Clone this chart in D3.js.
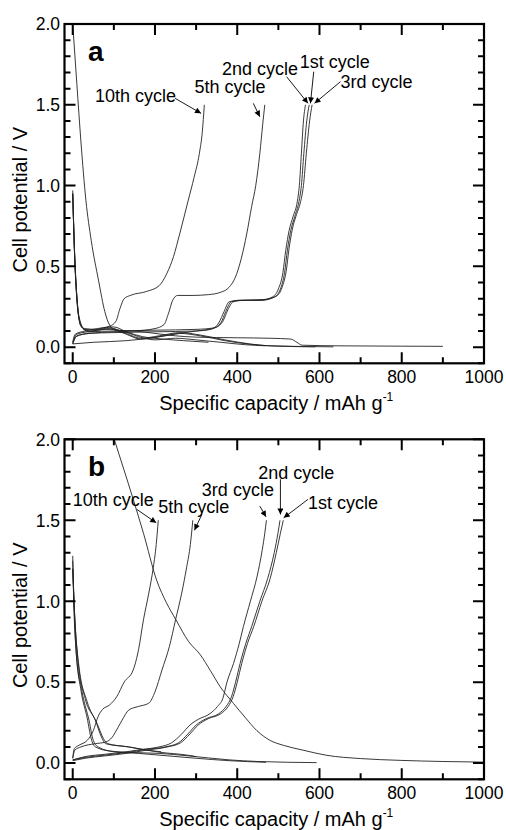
<!DOCTYPE html>
<html>
<head>
<meta charset="utf-8">
<script src="https://cdn.jsdelivr.net/npm/d3@7"></script>
<style>
body { margin: 0; background: #fff; }
text { font-family: "Liberation Sans", Arial, Helvetica, sans-serif; fill: #000; }
</style>
</head>
<body>
<div id="chart"></div>
<script>
var width = 506;
var height = 830;

// axis ticks
var capacityTicks = [0, 200, 400, 600, 800, 1000];
var capacityMinor = [100, 300, 500, 700, 900];
var potentialTicks = [0, 0.5, 1.0, 1.5, 2.0];
var potentialMinor = [-0.1, 0.1, 0.2, 0.3, 0.4, 0.6, 0.7, 0.8, 0.9, 1.1, 1.2, 1.3, 1.4, 1.6, 1.7, 1.8, 1.9];

// ---- panel a : [capacity mAh/g, potential V]
var aDis1 = [[0,2.0],[10,1.63],[20,1.27],[32,0.91],[45,0.66],[63,0.41],[78,0.22],[90,0.135],[105,0.105],[150,0.1],[200,0.085],[250,0.07],[300,0.062],[400,0.058],[480,0.055],[530,0.05],[545,0.03],[558,0.012],[650,0.008],[800,0.006],[900,0.005]];
var aDis2 = [[0,0.97],[4,0.62],[9,0.35],[16,0.18],[28,0.115],[60,0.11],[90,0.12],[130,0.085],[165,0.055],[210,0.07],[260,0.09],[310,0.075],[370,0.045],[430,0.02],[480,0.008],[634,0.002]];
var aDis3 = [[0,0.95],[4,0.6],[9,0.33],[16,0.17],[28,0.11],[60,0.105],[90,0.115],[130,0.08],[165,0.05],[210,0.065],[260,0.085],[310,0.07],[370,0.04],[430,0.018],[500,0.006],[590,0.002]];
var aDis5 = [[0,0.95],[5,0.55],[11,0.28],[20,0.13],[40,0.1],[80,0.11],[120,0.1],[160,0.065],[200,0.045],[250,0.055],[300,0.045],[360,0.03],[420,0.015],[470,0.008]];
var aDis10 = [[0,0.95],[5,0.55],[11,0.28],[20,0.13],[40,0.095],[75,0.12],[100,0.125],[130,0.095],[170,0.065],[220,0.05],[270,0.04],[330,0.03]];
var aChg1 = [[0,0.02],[50,0.03],[130,0.04],[200,0.06],[260,0.085],[300,0.1],[340,0.115],[360,0.15],[372,0.22],[385,0.28],[410,0.29],[460,0.29],[490,0.31],[505,0.36],[515,0.46],[522,0.6],[530,0.72],[540,0.81],[550,0.9],[556,1.0],[562,1.2],[569,1.4],[575,1.5]];
var aChg2 = [[0,0.02],[10,0.07],[40,0.085],[100,0.09],[200,0.095],[300,0.1],[335,0.11],[355,0.15],[368,0.22],[380,0.28],[405,0.29],[455,0.29],[485,0.31],[500,0.36],[511,0.46],[518,0.6],[526,0.72],[536,0.81],[546,0.9],[551,1.0],[556,1.2],[561,1.4],[566,1.5]];
var aChg3 = [[0,0.03],[10,0.08],[40,0.095],[100,0.1],[200,0.105],[300,0.11],[345,0.12],[365,0.16],[377,0.23],[390,0.28],[415,0.29],[465,0.295],[495,0.315],[509,0.37],[519,0.47],[526,0.61],[534,0.73],[544,0.82],[554,0.9],[561,1.0],[568,1.2],[576,1.4],[582,1.5]];
var aChg5 = [[0,0.02],[8,0.065],[40,0.085],[100,0.095],[150,0.1],[200,0.115],[222,0.14],[233,0.21],[243,0.29],[255,0.32],[290,0.32],[330,0.325],[360,0.34],[380,0.37],[395,0.43],[410,0.55],[423,0.7],[435,0.87],[445,1.0],[455,1.2],[462,1.38],[467,1.5]];
var aChg10 = [[0,0.03],[6,0.08],[30,0.1],[60,0.115],[90,0.13],[105,0.16],[115,0.24],[125,0.3],[140,0.32],[180,0.345],[210,0.38],[229,0.457],[245,0.56],[260,0.7],[281,0.91],[295,1.05],[308,1.2],[315,1.33],[320,1.5]];

// ---- panel b
var bDis1 = [[70,2.25],[101,2.0],[147,1.63],[172,1.42],[204,1.13],[228,0.99],[251,0.885],[282,0.75],[310,0.67],[335,0.57],[359,0.47],[391,0.368],[420,0.28],[448,0.2],[480,0.14],[512,0.11],[560,0.08],[618,0.048],[700,0.028],[796,0.017],[900,0.01],[1000,0.006]];
var bDis2 = [[0,1.28],[3,1.0],[8,0.7],[20,0.45],[35,0.28],[45,0.15],[55,0.1],[90,0.075],[150,0.065],[210,0.06],[280,0.045],[380,0.02],[450,0.01],[593,0.003]];
var bDis3 = [[0,1.25],[3,0.95],[8,0.7],[22,0.45],[40,0.26],[50,0.14],[62,0.1],[100,0.07],[160,0.06],[230,0.045],[300,0.03],[380,0.015],[470,0.005]];
var bDis5 = [[0,1.2],[4,0.95],[12,0.65],[30,0.4],[55,0.265],[70,0.16],[80,0.12],[136,0.1],[209,0.068],[282,0.048],[300,0.04]];
var bDis10 = [[0,1.2],[5,0.9],[15,0.6],[35,0.38],[60,0.24],[75,0.15],[85,0.12],[136,0.1],[180,0.08],[215,0.07]];
var bChg1 = [[0,0.015],[30,0.03],[80,0.045],[130,0.06],[180,0.08],[230,0.1],[262,0.125],[285,0.18],[305,0.235],[330,0.275],[360,0.305],[378,0.35],[390,0.41],[400,0.5],[411,0.616],[425,0.74],[440,0.843],[460,1.0],[480,1.14],[495,1.3],[505,1.42],[512,1.5]];
var bChg2 = [[0,0.02],[30,0.035],[80,0.05],[130,0.065],[180,0.085],[225,0.1],[257,0.125],[280,0.18],[300,0.235],[325,0.275],[355,0.305],[373,0.35],[386,0.41],[396,0.5],[407,0.616],[421,0.74],[435,0.843],[455,1.0],[474,1.14],[490,1.3],[499,1.42],[504,1.5]];
var bChg3 = [[0,0.02],[30,0.04],[80,0.055],[130,0.07],[170,0.085],[210,0.1],[240,0.125],[265,0.18],[285,0.235],[305,0.27],[334,0.306],[352,0.35],[365,0.4],[375,0.5],[391,0.616],[405,0.74],[415,0.843],[432,1.0],[448,1.15],[461,1.32],[467,1.42],[471,1.5]];
var bChg5 = [[0,0.03],[5,0.08],[20,0.1],[55,0.12],[80,0.13],[96,0.16],[110,0.22],[120,0.265],[136,0.327],[160,0.35],[185,0.37],[200,0.44],[217,0.575],[235,0.72],[250,0.885],[265,1.05],[277,1.21],[286,1.35],[292,1.5]];
var bChg10 = [[0,0.03],[4,0.09],[15,0.11],[35,0.14],[50,0.2],[62,0.29],[72,0.33],[90,0.36],[107,0.41],[125,0.5],[147,0.575],[160,0.7],[172,0.885],[185,1.05],[196,1.21],[203,1.35],[208,1.5]];

// labels: text start / baseline, arrow tail -> head (data units)
var notesA = [
	{ text: "10th cycle", x: 54, y: 1.52, x1: 249, y1: 1.54, x2: 312, y2: 1.447 },
	{ text: "5th cycle", x: 296, y: 1.571, x1: 439, y1: 1.509, x2: 455, y2: 1.426 },
	{ text: "2nd cycle", x: 363, y: 1.684, x1: 520, y1: 1.674, x2: 572, y2: 1.509 },
	{ text: "1st cycle", x: 552, y: 1.726, x1: 586, y1: 1.705, x2: 578, y2: 1.509 },
	{ text: "3rd cycle", x: 651, y: 1.602, x1: 651, y1: 1.643, x2: 588, y2: 1.509 }
	];
var notesB = [
	{ text: "10th cycle", x: 0, y: 1.587, x1: 156, y1: 1.567, x2: 203, y2: 1.484 },
	{ text: "5th cycle", x: 208, y: 1.546, x1: 314, y1: 1.536, x2: 296, y2: 1.438 },
	{ text: "3rd cycle", x: 314, y: 1.649, x1: 455, y1: 1.587, x2: 470, y2: 1.521 },
	{ text: "2nd cycle", x: 451, y: 1.757, x1: 505, y1: 1.753, x2: 505, y2: 1.536 },
	{ text: "1st cycle", x: 572, y: 1.571, x1: 572, y1: 1.629, x2: 513, y2: 1.515 }
	];

var panels = [
	{ id: "a", top: 24, bottom: 363.3, curves: [aDis1, aDis2, aDis3, aDis5, aDis10, aChg1, aChg2, aChg3, aChg5, aChg10], notes: notesA },
	{ id: "b", top: 439.3, bottom: 779.3, curves: [bDis1, bDis2, bDis3, bDis5, bDis10, bChg1, bChg2, bChg3, bChg5, bChg10], notes: notesB }
	];

var left = 64.5, right = 484;
var major = 11, minor = 6;

var svg = d3.select("#chart")
	.append("svg")
		.attr("width", width)
		.attr("height", height)
	;

svg.append("defs")
	.append("marker")
		.attr("id", "arrow")
		.attr("viewBox", "0 0 10 10")
		.attr("refX", 10)
		.attr("refY", 5)
		.attr("markerUnits", "userSpaceOnUse")
		.attr("markerWidth", 8)
		.attr("markerHeight", 6)
		.attr("orient", "auto")
	.append("path")
		.attr("d", "M0,0L10,5L0,10z")
		.attr("fill", "#000")
	;

panels.forEach(drawPanel);

function drawPanel(p, i)
	{
	var x = d3.scaleLinear().domain([-20, 1000]).range([left, right]);
	var y = d3.scaleLinear().domain([-0.1, 2.0]).range([p.bottom, p.top]);
	var g = svg.append("g");

	g.append("clipPath")
		.attr("id", "clip" + i)
		.append("rect")
			.attr("x", left).attr("y", p.top)
			.attr("width", right - left).attr("height", p.bottom - p.top);

	var line = d3.line()
		.x(d => x(d[0]))
		.y(d => y(d[1]))
		.curve(d3.curveMonotoneX);

	g.append("g")
		.attr("clip-path", "url(#clip" + i + ")")
		.selectAll("path")
		.data(p.curves)
		.enter()
			.append("path")
				.attr("d", line)
				.attr("fill", "none")
				.attr("stroke", "#222")
				.attr("stroke-width", 0.9)
		;

	g.append("rect")
		.attr("x", left).attr("y", p.top)
		.attr("width", right - left).attr("height", p.bottom - p.top)
		.attr("fill", "none")
		.attr("stroke", "#000")
		.attr("stroke-width", 2.2);

	// inward ticks on all four sides
	var tickData = [];
	capacityTicks.forEach(v => tickData.push({ side: "x", v: v, len: major }));
	capacityMinor.forEach(v => tickData.push({ side: "x", v: v, len: minor }));
	potentialTicks.forEach(v => tickData.push({ side: "y", v: v, len: major }));
	potentialMinor.forEach(v => tickData.push({ side: "y", v: v, len: minor }));

	var tickPath = tickData.map(function(t) {
		if (t.side === "x")
			{
			var px = x(t.v);
			return "M" + px + "," + p.bottom + "V" + (p.bottom - t.len)
				+ "M" + px + "," + p.top + "V" + (p.top + t.len);
			}
		var py = y(t.v);
		return "M" + left + "," + py + "H" + (left + t.len)
			+ "M" + right + "," + py + "H" + (right - t.len);
		}).join("");

	g.append("path")
		.attr("d", tickPath)
		.attr("fill", "none")
		.attr("stroke", "#000")
		.attr("stroke-width", 2);

	g.selectAll(null)
		.data(capacityTicks)
		.enter()
			.append("text")
				.attr("x", d => x(d))
				.attr("y", p.bottom + 20)
				.attr("text-anchor", "middle")
				.attr("font-size", 17.5)
				.text(d3.format("d"))
		;
	g.selectAll(null)
		.data(potentialTicks)
		.enter()
			.append("text")
				.attr("x", left - 4.5)
				.attr("y", d => y(d))
				.attr("dy", "0.36em")
				.attr("text-anchor", "end")
				.attr("font-size", 17.5)
				.text(d3.format(".1f"))
		;

	// x title
	var xt = g.append("text")
		.attr("x", (left + right) / 2 + 2)
		.attr("y", p.bottom + 47)
		.attr("text-anchor", "middle")
		.attr("font-size", 20);
	xt.append("tspan").text("Specific capacity / mAh g");
	xt.append("tspan").attr("font-size", 12).attr("dy", -9).text("-1");

	// y title
	g.append("text")
		.attr("transform", "translate(26.5," + ((p.top + p.bottom) / 2 + 6) + ") rotate(-90)")
		.attr("text-anchor", "middle")
		.attr("font-size", 20)
		.text("Cell potential / V");

	// panel letter
	g.append("text")
		.attr("x", x(37))
		.attr("y", p.top + 37)
		.attr("font-size", 28)
		.attr("font-weight", "bold")
		.text(p.id);

	// cycle labels with arrows
	g.selectAll(null)
		.data(p.notes)
		.enter()
			.append("text")
				.attr("x", d => x(d.x))
				.attr("y", d => y(d.y))
				.attr("font-size", 18)
				.text(d => d.text)
		;
	g.selectAll(null)
		.data(p.notes)
		.enter()
			.append("line")
				.attr("x1", d => x(d.x1))
				.attr("y1", d => y(d.y1))
				.attr("x2", d => x(d.x2))
				.attr("y2", d => y(d.y2))
				.attr("stroke", "#000")
				.attr("stroke-width", 0.9)
				.attr("marker-end", "url(#arrow)")
		;
	}
</script>
</body>
</html>
